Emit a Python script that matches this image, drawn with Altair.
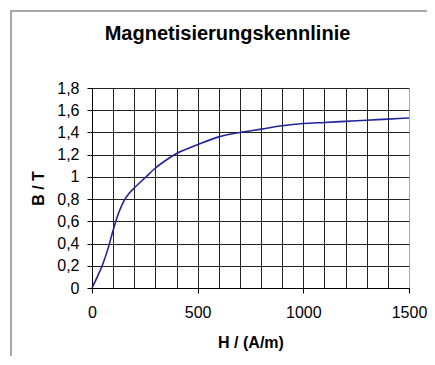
import altair as alt
import pandas as pd

# Data
H_values = [0, 25, 50, 75, 100, 125, 150, 175, 200, 250, 300, 350, 400, 500, 600, 700, 800, 900, 1000, 1100, 1200, 1300, 1400, 1500]
B_values = [0, 0.1, 0.21, 0.35, 0.52, 0.67, 0.78, 0.85, 0.9, 0.99, 1.08, 1.15, 1.21, 1.29, 1.36, 1.40, 1.43, 1.46, 1.48, 1.49, 1.50, 1.51, 1.52, 1.53]
x_grid = list(range(0, 1501, 100))
y_ticks = [0, 0.2, 0.4, 0.6, 0.8, 1.0, 1.2, 1.4, 1.6, 1.8]

df = pd.DataFrame({"H": H_values, "B": B_values})

FONT = "Liberation Sans"

x_axis = alt.Axis(
    values=x_grid,
    format="d",
    labelExpr="datum.value % 500 === 0 ? datum.label : ''",
    labelFlush=False,
    tickOpacity={"condition": {"test": "datum.value % 500 === 0", "value": 1}, "value": 0},
    grid=True,
    gridColor={"condition": {"test": "datum.value === 1500", "value": "#aaaaaa"}, "value": "#222222"},
    gridWidth=1,
    labelPadding=11,
    titlePadding=14,
)

y_axis = alt.Axis(
    values=y_ticks,
    labelExpr="replace(format(datum.value, '.1~f'), '.', ',')",
    labelFlush=False,
    grid=True,
    gridColor="#222222",
    gridWidth=1,
    labelPadding=8,
    titlePadding=10,
)

line = alt.Chart(df).mark_line(color="#24249a", strokeWidth=1.6, interpolate="monotone").encode(
    x=alt.X("H:Q", scale=alt.Scale(domain=[0, 1500], nice=False, zero=True), axis=x_axis, title="H / (A/m)"),
    y=alt.Y("B:Q", scale=alt.Scale(domain=[0, 1.8], nice=False), axis=y_axis, title="B / T"),
)

frame = alt.Chart(pd.DataFrame({"k": [0]})).mark_rect(
    fillOpacity=0, stroke="#8c8c8c", strokeWidth=1.5, clip=False
).encode(
    x=alt.value(-81), x2=alt.value(360), y=alt.value(-77), y2=alt.value(300)
)

chart = alt.layer(frame, line).properties(
    width=317,
    height=200,
    autosize=alt.AutoSizeParams(type="none"),
    padding={"left": 84, "top": 80, "right": 18, "bottom": 68},
    title=alt.TitleParams(
        "Magnetisierungskennlinie",
        font=FONT,
        fontSize=20,
        fontWeight="bold",
        color="black",
        anchor="middle",
        baseline="alphabetic",
        dx=-23,
        offset=-50,
    ),
).configure_view(
    strokeWidth=0
).configure_axis(
    labelFont=FONT,
    labelFontSize=16,
    labelColor="black",
    titleFont=FONT,
    titleFontSize=16,
    titleFontWeight="bold",
    titleColor="black",
    domainColor="black",
    domainWidth=1,
    tickColor="black",
    tickSize=5,
    tickWidth=1,
)

chart.save("out.html", embed_options={"renderer": "svg", "actions": False})
